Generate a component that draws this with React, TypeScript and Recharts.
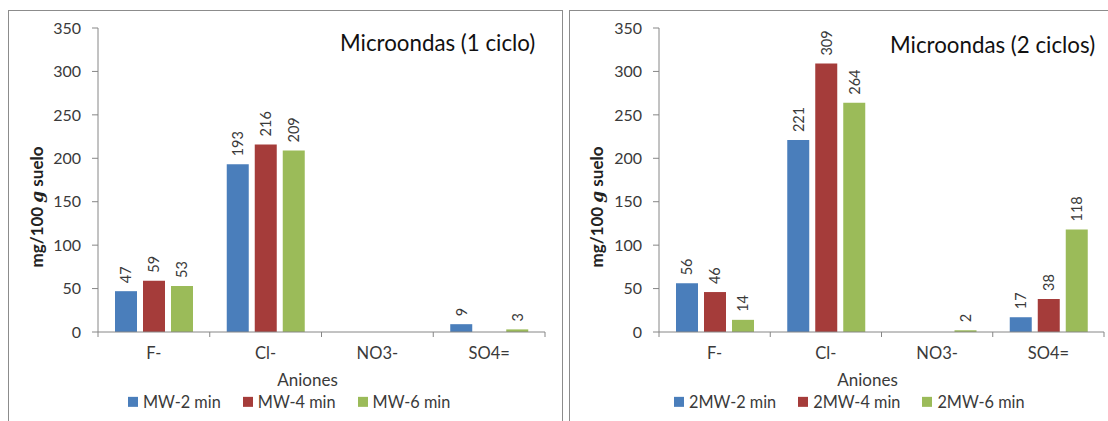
import React from 'react';
import { BarChart, Bar, XAxis, YAxis, LabelList } from 'recharts';

// anion categories on the x axis
const categories = ['F-', 'Cl-', 'NO3-', 'SO4='];

// mg/100 g suelo, one cycle of microwave extraction
const oneCycle2min = [47, 193, null, 9];
const oneCycle4min = [59, 216, null, null];
const oneCycle6min = [53, 209, null, 3];

// mg/100 g suelo, two cycles
const twoCycles2min = [56, 221, null, 17];
const twoCycles4min = [46, 309, null, 38];
const twoCycles6min = [14, 264, 2, 118];

const seriesNames1 = ['MW-2 min', 'MW-4 min', 'MW-6 min'];
const seriesNames2 = ['2MW-2 min', '2MW-4 min', '2MW-6 min'];
const yTicks = [0, 50, 100, 150, 200, 250, 300, 350];

const COLORS = ['#4A7EBB', '#A53C3A', '#9BBB59'];
const TEXT = '#3a3a3a';
const AXIS = '#868686';
const FONT = 'Lato, "Open Sans", sans-serif';

const toRows = (a: (number | null)[], b: (number | null)[], c: (number | null)[]) =>
  categories.map((cat, i) => ({ cat, s0: a[i], s1: b[i], s2: c[i] }));

const rows1 = toRows(oneCycle2min, oneCycle4min, oneCycle6min);
const rows2 = toRows(twoCycles2min, twoCycles4min, twoCycles6min);

// rotated value above each bar
const ValueLabel = (props: any) => {
  const { x, y, width, value } = props;
  if (value === null || value === undefined) return null;
  const cx = x + width / 2;
  const cy = y - 8;
  return (
    <text
      x={cx}
      y={cy}
      transform={`rotate(-90 ${cx} ${cy})`}
      textAnchor="start"
      dominantBaseline="central"
      fill={TEXT}
      fontSize={14.5}
      fontFamily={FONT}
    >
      {value}
    </text>
  );
};

// category label plus Excel-style tick marks on the category boundaries
const CategoryTick = (props: any) => {
  const { x, y, payload, index, visibleTicksCount } = props;
  const half = payload?.offset ?? 0;
  const axisY = y - 15;
  return (
    <g>
      <line x1={x - half} x2={x - half} y1={axisY} y2={axisY + 5} stroke={AXIS} />
      {index === visibleTicksCount - 1 && (
        <line x1={x + half} x2={x + half} y1={axisY} y2={axisY + 5} stroke={AXIS} />
      )}
      <text x={x} y={y} dy="0.71em" textAnchor="middle" fill={TEXT} fontSize={16.5} fontFamily={FONT}>
        {payload.value}
      </text>
    </g>
  );
};

interface PanelProps {
  left: number;
  width: number;
  plotLeft: number;
  plotRight: number;
  rows: any[];
  names: string[];
  title: string;
  titleLeft: number;
  titleTop: number;
  yLabelX: number;
  legendLeft: number;
  legendGap: number;
}

const Panel: React.FC<PanelProps> = (p) => {
  const plotTop = 28;
  const plotBottom = 332;
  const yAxisWidth = 60;
  const xAxisHeight = 30;
  return (
    <div style={{ position: 'absolute', left: p.left, top: 0, width: p.width, height: 421 }}>
      <BarChart
        width={p.width}
        height={421}
        data={p.rows}
        margin={{
          top: plotTop,
          right: p.width - p.plotRight,
          bottom: 421 - plotBottom - xAxisHeight,
          left: p.plotLeft - yAxisWidth,
        }}
        barSize={22}
        barGap={6}
      >
        <XAxis
          dataKey="cat"
          height={xAxisHeight}
          axisLine={{ stroke: AXIS }}
          tickLine={false}
          tickSize={0}
          tickMargin={15}
          tick={<CategoryTick />}
          interval={0}
        />
        <YAxis
          width={yAxisWidth}
          domain={[0, 350]}
          ticks={yTicks}
          interval={0}
          axisLine={{ stroke: AXIS }}
          tickLine={{ stroke: AXIS }}
          tickSize={6}
          tickMargin={11}
          tick={{ fill: TEXT, fontSize: 16, fontFamily: FONT }}
        />
        {['s0', 's1', 's2'].map((key, i) => (
          <Bar key={key} dataKey={key} name={p.names[i]} fill={COLORS[i]} isAnimationActive={false}>
            <LabelList dataKey={key} content={<ValueLabel />} />
          </Bar>
        ))}
      </BarChart>

      {/* chart title inside the plot */}
      <div
        style={{
          position: 'absolute', left: p.titleLeft, top: p.titleTop, fontSize: 22.3,
          fontFamily: FONT, color: '#111', whiteSpace: 'nowrap', lineHeight: 1,
        }}
      >
        {p.title}
      </div>

      {/* y axis title */}
      <div
        style={{
          position: 'absolute', left: p.yLabelX, top: 207, transform: 'translate(-50%, -50%) rotate(-90deg)',
          fontSize: 17, fontWeight: 700, fontFamily: FONT, color: '#222', whiteSpace: 'nowrap', lineHeight: 1,
        }}
      >
        mg/100 <span style={{ fontFamily: '"DejaVu Serif", serif', fontStyle: 'italic' }}>g</span> suelo
      </div>

      {/* x axis title */}
      <div
        style={{
          position: 'absolute', left: (p.plotLeft + p.plotRight) / 2 - 14, top: 379,
          transform: 'translate(-50%, -50%)', fontSize: 17, fontFamily: FONT, color: TEXT, lineHeight: 1,
        }}
      >
        Aniones
      </div>

      {/* legend */}
      <div
        style={{
          position: 'absolute', left: p.legendLeft, top: 402, transform: 'translateY(-50%)',
          display: 'flex', alignItems: 'center', gap: p.legendGap, fontFamily: FONT, fontSize: 16.3,
          color: TEXT, whiteSpace: 'nowrap', lineHeight: 1,
        }}
      >
        {p.names.map((n, i) => (
          <div key={n} style={{ display: 'flex', alignItems: 'center', gap: 5 }}>
            <span style={{ width: 10, height: 10, background: COLORS[i], display: 'inline-block' }} />
            <span>{n}</span>
          </div>
        ))}
      </div>
    </div>
  );
};

const frame = (left: number, top: number, width: number): React.CSSProperties => ({
  position: 'absolute', left, top, width, height: 430, border: '1px solid #8c8c8c', boxSizing: 'border-box',
});

export default function App() {
  return (
    <div style={{ position: 'absolute', left: 0, top: 0, width: 1108, height: 421, overflow: 'hidden', background: '#fff' }}>
      <div style={frame(8, 10, 555)} />
      <div style={frame(569, 10, 545)} />
      <Panel
        left={0} width={565} plotLeft={98} plotRight={545} rows={rows1} names={seriesNames1}
        title="Microondas (1 ciclo)" titleLeft={340} titleTop={32} yLabelX={37}
        legendLeft={128} legendGap={22}
      />
      <Panel
        left={560} width={548} plotLeft={99} plotRight={544} rows={rows2} names={seriesNames2}
        title="Microondas (2 ciclos)" titleLeft={330} titleTop={34} yLabelX={37}
        legendLeft={114} legendGap={22}
      />
    </div>
  );
}
